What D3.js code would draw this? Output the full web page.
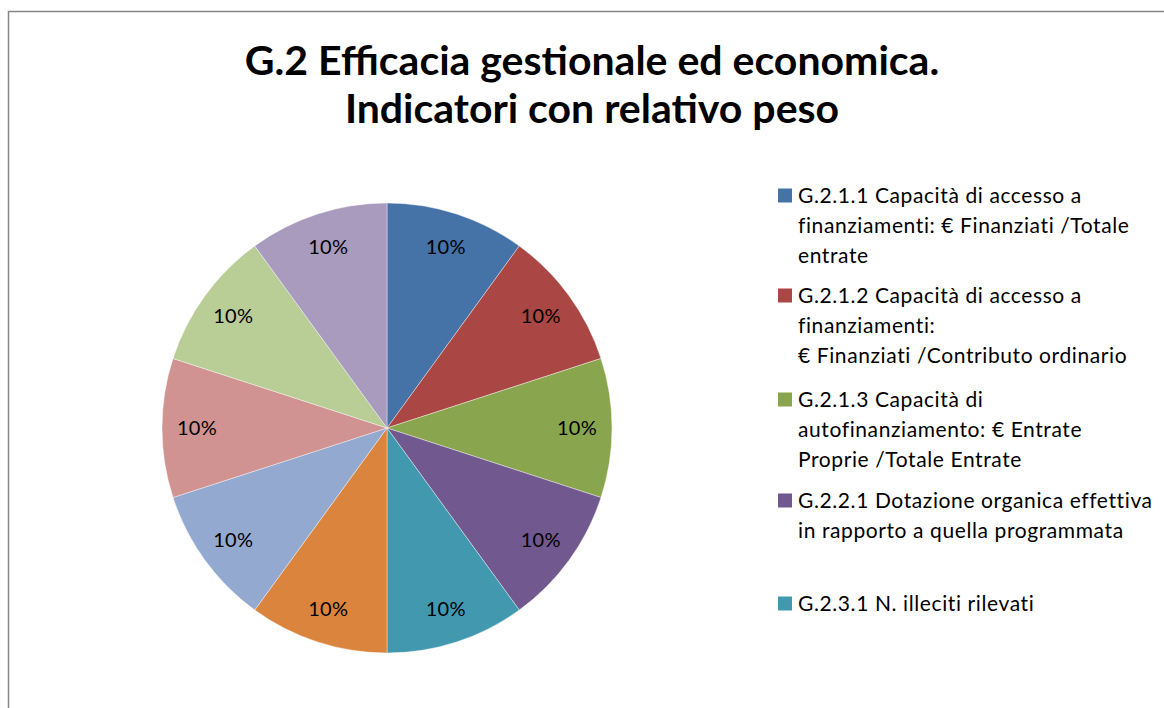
<!DOCTYPE html>
<html>
<head>
<meta charset="utf-8">
<script src="https://cdn.jsdelivr.net/npm/d3@7"></script>
<style>
  body { margin: 0; background: #fff; }
  svg { display: block; font-family: Lato, "Open Sans", sans-serif; }
</style>
</head>
<body>
<svg id="svg1" width="1164" height="708"></svg>
<script>
var titleLines = ["G.2 Efficacia gestionale ed economica.", "Indicatori con relativo peso"];

var values = [10, 10, 10, 10, 10, 10, 10, 10, 10, 10];

var colors = ["#4572a7", "#aa4643", "#89a54e", "#71588f", "#4198af",
              "#db843d", "#93a9cf", "#d19392", "#b9cd96", "#a99bbd"];

// only the first five entries fit in the legend box
var legendLabels = [
  ["G.2.1.1 Capacità di accesso a", "finanziamenti: € Finanziati /Totale", "entrate"],
  ["G.2.1.2 Capacità di accesso a", "finanziamenti:", "€ Finanziati /Contributo ordinario"],
  ["G.2.1.3 Capacità di", "autofinanziamento: € Entrate", "Proprie /Totale Entrate"],
  ["G.2.2.1 Dotazione organica effettiva", "in rapporto a quella programmata"],
  ["G.2.3.1 N. illeciti rilevati"]
];
var legendTops = [195.5, 295.5, 399.5, 500.5, 603.5];

var svg = d3.select('svg');

// chart frame (runs off the right and bottom)
svg.append('rect')
   .attr('x', 8.5).attr('y', 11.5)
   .attr('width', 1200).attr('height', 800)
   .attr('fill', 'none')
   .attr('stroke', '#868686')
   .attr('stroke-width', 1.5);

svg.selectAll('.title')
   .data(titleLines)
   .enter()
   .append('text')
   .attr('class', 'title')
   .attr('x', 592)
   .attr('y', function(d, i) { return 75 + i * 48; })
   .attr('text-anchor', 'middle')
   .style('font-size', '41px')
   .style('font-weight', 'bold')
   .attr('fill', '#000')
   .text(function(d) { return d; });

var radius = 225;
var g = svg.append('g')
           .attr('transform', 'translate(387,428)');

var pie = d3.pie().sort(null).value(function(d) { return d; });
var arc = d3.arc().innerRadius(0).outerRadius(radius);
var labelArc = d3.arc().innerRadius(190).outerRadius(190);
var total = d3.sum(values);

var slices = g.selectAll('path')
              .data(pie(values))
              .enter();

slices.append('path')
      .attr('d', arc)
      .attr('fill', function(d, i) { return colors[i]; })
      .attr('stroke', '#ffffff')
      .attr('stroke-width', 0.4);

slices.append('text')
      .attr('transform', function(d) { return 'translate(' + labelArc.centroid(d) + ')'; })
      .attr('text-anchor', 'middle')
      .attr('dy', '0.35em')
      .style('font-size', '20px')
      .style('letter-spacing', '0.3px')
      .attr('fill', '#000')
      .text(function(d) { return Math.round(d.value / total * 100) + '%'; });

var legend = svg.selectAll('.legend')
                .data(legendLabels)
                .enter()
                .append('g')
                .attr('class', 'legend')
                .attr('transform', function(d, i) { return 'translate(778,' + legendTops[i] + ')'; });

legend.append('rect')
      .attr('x', 0).attr('y', -7)
      .attr('width', 14).attr('height', 14)
      .attr('fill', function(d, i) { return colors[i]; });

legend.selectAll('text')
      .data(function(d) { return d; })
      .enter()
      .append('text')
      .attr('x', 20)
      .attr('y', function(d, i) { return 7 + i * 30; })
      .style('font-size', '21px')
      .style('letter-spacing', '0.6px')
      .attr('fill', '#000')
      .text(function(d) { return d; });
</script>
</body>
</html>
